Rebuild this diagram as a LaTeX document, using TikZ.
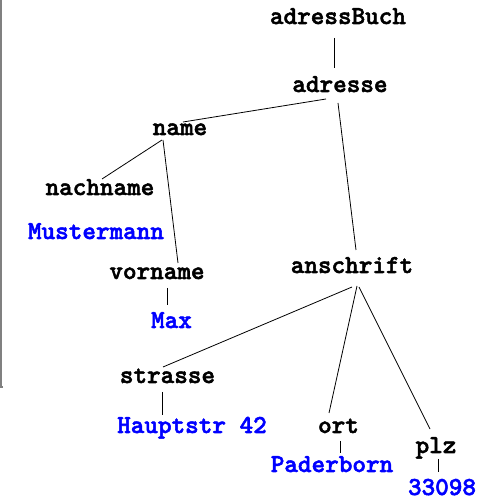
\documentclass[tikz,border=0pt]{standalone}
\usepackage{fontspec}
\newfontfamily\courfont[FakeBold=2]{lmmonolt10-bold.otf}
\usetikzlibrary{calc}
\definecolor{valblue}{RGB}{0,0,255}
\tikzset{
  lbl/.style={anchor=base, inner sep=0pt, font=\courfont\fontsize{25.9}{30}\selectfont, text=black},
  val/.style={lbl, text=valblue},
  edge/.style={draw=black, line width=0.8pt},
}
\begin{document}
\begin{tikzpicture}[x=1pt,y=1pt]
\useasboundingbox (0,0) rectangle (490,500);
% left frame line
\draw[gray, line width=1.6pt] (1,500) -- (1,113) -- (3,113);
% nodes (x, 500 - baseline)
\node[lbl] (adressBuch) at (338,476) {adressBuch};
\node[lbl] (adresse) at (340,408) {adresse};
\node[lbl] (name) at (180,365) {name};
\node[lbl] (nachname) at (100,305) {nachname};
\node[val] (muster) at (96,261) {Mustermann};
\node[lbl] (vorname) at (157,221) {vorname};
\node[val] (max) at (171.5,172) {Max};
\node[lbl] (anschrift) at (352,227) {anschrift};
\node[lbl] (strasse) at (167.5,117) {strasse};
\node[val] (haupt) at (192,67) {Hauptstr 42};
\node[lbl] (ort) at (338.5,67) {ort};
\node[val] (pader) at (332,28) {Paderborn};
\node[lbl] (plz) at (436,47) {plz};
\node[val] (plzval) at (442,5) {33098};
% connectors
\draw[edge] ([shift={(-4,-14)}]adressBuch.base) -- ([shift={(-6,24)}]adresse.base);
\draw[edge] ([shift={(-14,-7)}]adresse.base) -- ([shift={(3,13)}]name.base);
\draw[edge] ([shift={(-2,-11)}]adresse.base) -- ([shift={(4,23)}]anschrift.base);
\draw[edge] ([shift={(-18,-5)}]name.base) -- ([shift={(2,16)}]nachname.base);
\draw[edge] ([shift={(-17,-5)}]name.base) -- ([shift={(21,16)}]vorname.base);
\draw[edge] ([shift={(10,-9)}]vorname.base) -- ([shift={(-4.5,23)}]max.base);
\draw[edge] ([shift={(0,-14)}]anschrift.base) -- ([shift={(-4.5,16)}]strasse.base);
\draw[edge] ([shift={(5,-13)}]anschrift.base) -- ([shift={(-9.5,20)}]ort.base);
\draw[edge] ([shift={(7,-14)}]anschrift.base) -- ([shift={(-6,24)}]plz.base);
\draw[edge] ([shift={(-5.5,-9)}]strasse.base) -- ([shift={(-30,18)}]haupt.base);
\draw[edge] ([shift={(2.2,-8)}]ort.base) -- ([shift={(8.7,19)}]pader.base);
\draw[edge] ([shift={(2,-6)}]plz.base) -- ([shift={(-4,23)}]plzval.base);
\end{tikzpicture}
\end{document}
